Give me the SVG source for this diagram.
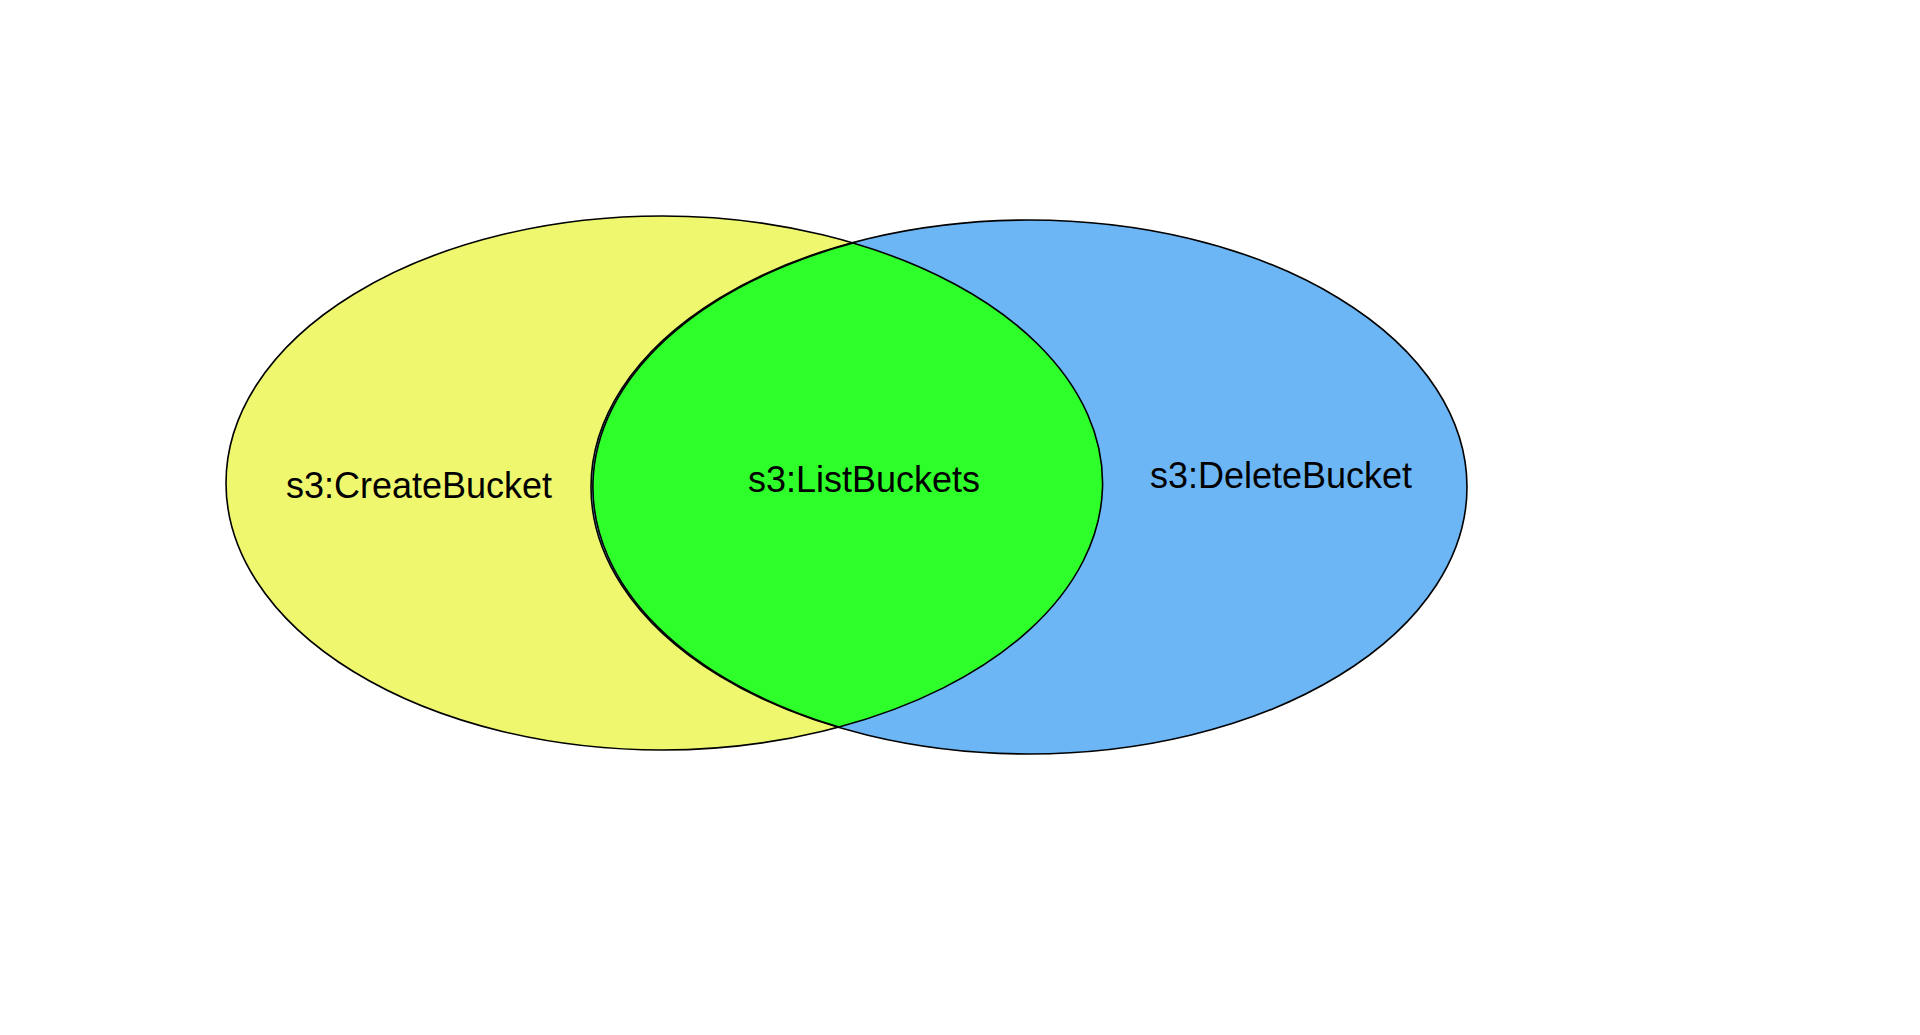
<svg xmlns="http://www.w3.org/2000/svg" width="1920" height="1035" viewBox="0 0 1920 1035">
<style>
.shape{stroke:#000;stroke-width:1.6}
.lbl{font-family:"Liberation Sans",Arial,sans-serif;font-size:36px;fill:#000;text-anchor:middle}
</style>
<rect width="1920" height="1035" fill="#fff"/>
<g id="create-bucket">
<ellipse class="shape" cx="662" cy="483" rx="436" ry="267" fill="#EFF76E"/>
</g>
<g id="delete-bucket">
<ellipse class="shape" cx="1029" cy="487" rx="438" ry="267" fill="#6CB6F5"/>
</g>
<g id="list-buckets">
<path class="shape" d="M 853 243 A 438 267 0 0 0 839 727 A 444 267 0 0 0 853 243 Z" fill="#2EFF2A"/>
</g>
<g id="connectors"></g>
<g id="labels">
<text class="lbl" x="419" y="498">s3:CreateBucket</text>
<text class="lbl" x="864" y="492">s3:ListBuckets</text>
<text class="lbl" x="1281" y="488">s3:DeleteBucket</text>
</g>
</svg>
